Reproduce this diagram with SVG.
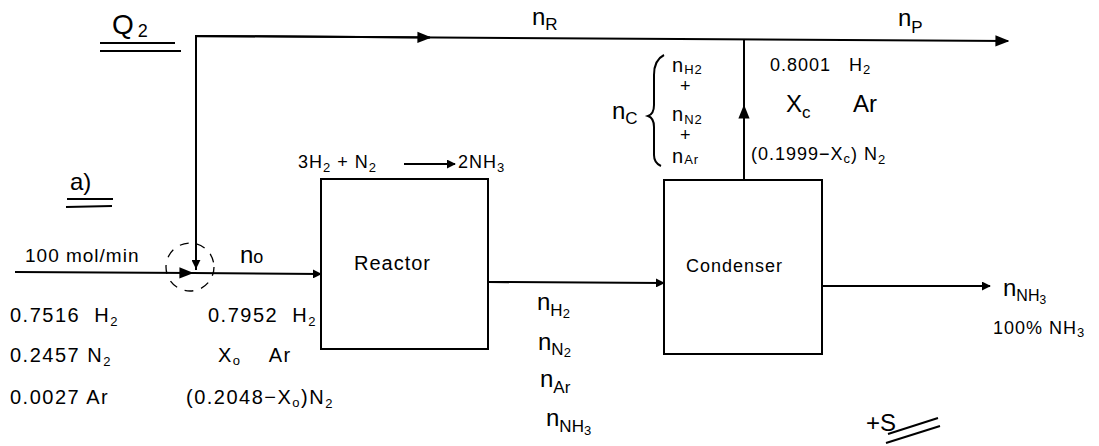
<svg xmlns="http://www.w3.org/2000/svg" width="1099" height="446" viewBox="0 0 1099 446">
<defs>
<style>
.ln{stroke:#000;stroke-width:2;fill:none}
.bx{stroke:#000;stroke-width:2;fill:#fff}
.t{font-family:"Liberation Sans",Arial,sans-serif;font-size:18px;fill:#000;letter-spacing:1px}
.c{font-family:"Liberation Sans",Arial,sans-serif;font-size:20px;fill:#000;letter-spacing:1.5px}
.big{font-family:"Liberation Sans",Arial,sans-serif;font-size:24px;fill:#000}
.sub{font-size:13px}
</style>
<marker id="ah" viewBox="0 0 10 10" refX="9" refY="5" markerWidth="9" markerHeight="9" markerUnits="userSpaceOnUse" orient="auto"><path d="M0,0 L10,5 L0,10 Z" fill="#000"/></marker>
<marker id="ahb" viewBox="0 0 10 10" refX="9" refY="5" markerWidth="14" markerHeight="14" markerUnits="userSpaceOnUse" orient="auto"><path d="M0,1 L10,5 L0,9 Z" fill="#000"/></marker>
</defs>
<rect width="1099" height="446" fill="#fff"/>
<g id="connectors">
<path class="ln" d="M196,270 L196,36 L1008,41" marker-end="url(#ahb)"/>
<path class="ln" d="M196,36 L196,268" marker-end="url(#ah)"/>
<path class="ln" d="M196,36 L430,37.5" marker-end="url(#ahb)"/>
<path class="ln" d="M15,272 L192,273" marker-end="url(#ahb)"/>
<path class="ln" d="M192,273 L321,274" marker-end="url(#ah)"/>
<path class="ln" d="M488,282 L664,283" marker-end="url(#ah)"/>
<path class="ln" d="M822,286 L990,286" marker-end="url(#ah)"/>
<path class="ln" d="M744,180 L744,40"/>
<path class="ln" d="M744,180 L744,106" marker-end="url(#ahb)"/>
<circle cx="190" cy="267" r="24" fill="none" stroke="#000" stroke-width="1.3" stroke-dasharray="9,8"/>
</g>
<g id="reactor">
<rect class="bx" x="321" y="179" width="167" height="170"/>
<text class="t" x="354" y="270" style="font-size:20px">Reactor</text>
</g>
<g id="condenser">
<rect class="bx" x="664" y="180" width="158" height="174"/>
<text class="t" x="686" y="272" style="font-size:18px">Condenser</text>
</g>
<g id="labels">
<text class="big" x="112" y="34" style="font-size:28px">Q<tspan font-size="18" dx="4" dy="3">2</tspan></text>
<path class="ln" d="M100,43 L175,43 M100,51 L181,51" stroke-width="1.5"/>
<text class="big" x="70" y="190">a)</text>
<path class="ln" d="M67,199 L113,199 M66,207 L112,206" stroke-width="1.5"/>
<text class="big" x="532" y="25">n<tspan font-size="17" dy="5">R</tspan></text>
<text class="big" x="898" y="26">n<tspan font-size="17" dy="7">P</tspan></text>
<text class="t" x="298" y="168">3H<tspan class="sub" dy="4">2</tspan><tspan dy="-4"> + N</tspan><tspan class="sub" dy="4">2</tspan></text>
<path class="ln" d="M404,164 L455,164" marker-end="url(#ah)"/>
<text class="t" x="458" y="168">2NH<tspan class="sub" dy="4">3</tspan></text>
<text class="t" x="25" y="262" style="font-size:19px">100 mol/min</text>
<text class="big" x="240" y="263">n<tspan font-size="18">o</tspan></text>
<text class="c" x="10" y="322" xml:space="preserve">0.7516  H<tspan class="sub" dy="4">2</tspan></text>
<text class="c" x="10" y="362">0.2457 N<tspan class="sub" dy="4">2</tspan></text>
<text class="c" x="10" y="404">0.0027 Ar</text>
<text class="c" x="208" y="322" xml:space="preserve">0.7952  H<tspan class="sub" dy="4">2</tspan></text>
<text class="c" x="218" y="362" xml:space="preserve">X<tspan class="sub" dy="3">o</tspan><tspan dy="-3">    Ar</tspan></text>
<text class="c" x="186" y="404">(0.2048−X<tspan class="sub" dy="3">o</tspan><tspan dy="-3">)N</tspan><tspan class="sub" dy="4">2</tspan></text>
<text class="big" x="537" y="310">n<tspan font-size="17" dy="6">H</tspan><tspan font-size="13" dy="2">2</tspan></text>
<text class="big" x="538" y="350">n<tspan font-size="17" dy="5">N</tspan><tspan font-size="13" dy="2">2</tspan></text>
<text class="big" x="540" y="387">n<tspan font-size="17" dy="6">Ar</tspan></text>
<text class="big" x="546" y="426">n<tspan font-size="17" dy="6">NH</tspan><tspan font-size="13" dy="3">3</tspan></text>
<text class="big" x="612" y="119">n<tspan font-size="17" dy="5">C</tspan></text>
<path class="ln" stroke-width="1.5" d="M664,55 Q654,60 654,75 L654,105 Q654,114 648,116 Q654,118 654,127 L654,155 Q654,163 661,166"/>
<text class="t" x="672" y="72" style="font-size:20px">n<tspan font-size="13" dy="2">H2</tspan></text>
<text class="t" x="680" y="92">+</text>
<text class="t" x="672" y="121" style="font-size:20px">n<tspan font-size="13" dy="3">N2</tspan></text>
<text class="t" x="680" y="141">+</text>
<text class="t" x="672" y="163" style="font-size:20px">n<tspan font-size="13" dy="1">Ar</tspan></text>
<text class="t" x="770" y="71" xml:space="preserve">0.8001   H<tspan class="sub" dy="3">2</tspan></text>
<text class="big" x="786" y="112">X<tspan font-size="17" dy="6">c</tspan></text>
<text class="big" x="853" y="112">Ar</text>
<text class="t" x="751" y="160">(0.1999−X<tspan class="sub" dy="3">c</tspan><tspan dy="-3">) N</tspan><tspan class="sub" dy="4">2</tspan></text>
<text class="big" x="1003" y="296">n<tspan font-size="16" dy="5">NH</tspan><tspan font-size="12" dy="3">3</tspan></text>
<text class="t" x="993" y="334">100% NH<tspan class="sub" dy="3">3</tspan></text>
<text class="big" x="866" y="431">+S</text>
<path class="ln" stroke-width="1.5" d="M888,434 L938,418 M886,443 L940,426"/>
</g>
</svg>
